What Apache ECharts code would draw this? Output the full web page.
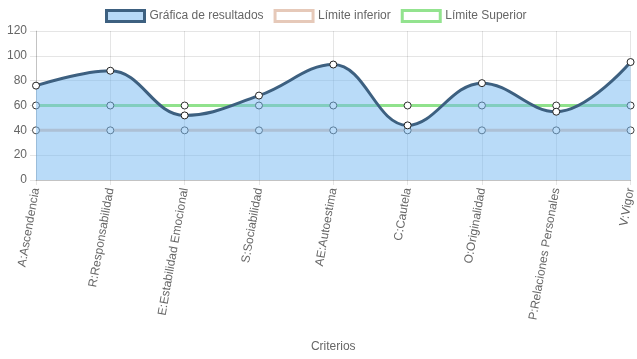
<!DOCTYPE html>
<html><head><meta charset="utf-8">
<script src="https://cdn.jsdelivr.net/npm/echarts@6/dist/echarts.min.js"></script>
<style>html,body{margin:0;padding:0;background:#fff}#c{width:637px;height:359px}</style>
</head><body><div id="c"></div>
<script>
const categories = ['A:Ascendencia','R:Responsabilidad','E:Estabilidad Emocional','S:Sociabilidad','AE:Autoestima','C:Cautela','O:Originalidad','P:Relaciones Personales','V:Vigor'];
const resultados = [76, 88, 52, 68, 93, 44, 78, 55, 95];
const limiteInferior = [40, 40, 40, 40, 40, 40, 40, 40, 40];
const limiteSuperior = [60, 60, 60, 60, 60, 60, 60, 60, 60];
const yTicks = {min: 0, max: 120, interval: 20};

const font = 'Liberation Sans, Arial, sans-serif';
const chart = echarts.init(document.getElementById('c'));
chart.setOption({
  animation: false,
  textStyle: {fontFamily: font},
  legend: {
    top: 4, left: 100, itemWidth: 38, itemHeight: 11, itemGap: 10,
    textStyle: {color: '#666', fontSize: 12, fontFamily: font},
    data: [
      {name: 'Gráfica de resultados', icon: 'rect', itemStyle: {color: '#b7d9f7', borderColor: '#3d6080', borderWidth: 3}},
      {name: 'Límite inferior', icon: 'rect', itemStyle: {color: '#fff', borderColor: '#e6c9b9', borderWidth: 3}},
      {name: 'Límite Superior', icon: 'rect', itemStyle: {color: '#fff', borderColor: '#93e38f', borderWidth: 3}}
    ]
  },
  grid: {left: 36, right: 4, top: 31, bottom: 179, containLabel: false},
  xAxis: {
    type: 'category', data: categories, boundaryGap: false,
    name: 'Criterios', nameLocation: 'middle', nameGap: 161,
    nameTextStyle: {color: '#666', fontSize: 12, fontFamily: font},
    axisLine: {show: true, lineStyle: {color: 'rgba(0,0,0,0.15)'}},
    axisTick: {show: true, length: 5, lineStyle: {color: 'rgba(0,0,0,0.1)'}},
    splitLine: {show: true, lineStyle: {color: 'rgba(0,0,0,0.1)'}},
    axisLabel: {color: '#666', fontSize: 12, rotate: 80, margin: 8, fontFamily: font}
  },
  yAxis: {
    type: 'value', min: yTicks.min, max: yTicks.max, interval: yTicks.interval,
    axisLine: {show: true, lineStyle: {color: 'rgba(0,0,0,0.15)'}},
    axisTick: {show: true, length: 6, lineStyle: {color: 'rgba(0,0,0,0.1)'}},
    splitLine: {show: true, lineStyle: {color: 'rgba(0,0,0,0.1)'}},
    axisLabel: {color: '#666', fontSize: 12, margin: 9, fontFamily: font}
  },
  series: [
    {
      name: 'Gráfica de resultados', type: 'line', data: resultados, smooth: 0.4, z: 5,
      symbol: 'circle', symbolSize: 7,
      lineStyle: {color: '#3d6080', width: 3},
      itemStyle: {color: '#fff', borderColor: '#222', borderWidth: 1},
      areaStyle: {color: 'rgba(115,183,241,0.5)', opacity: 1}
    },
    {
      name: 'Límite inferior', type: 'line', data: limiteInferior, z: 2,
      symbol: 'circle', symbolSize: 7,
      lineStyle: {color: '#e6c9b9', width: 3},
      itemStyle: {color: '#fff', borderColor: '#444', borderWidth: 1}
    },
    {
      name: 'Límite Superior', type: 'line', data: limiteSuperior, z: 2,
      symbol: 'circle', symbolSize: 7,
      lineStyle: {color: '#90e28c', width: 3},
      itemStyle: {color: '#fff', borderColor: '#333', borderWidth: 1}
    }
  ]
});
</script></body></html>
